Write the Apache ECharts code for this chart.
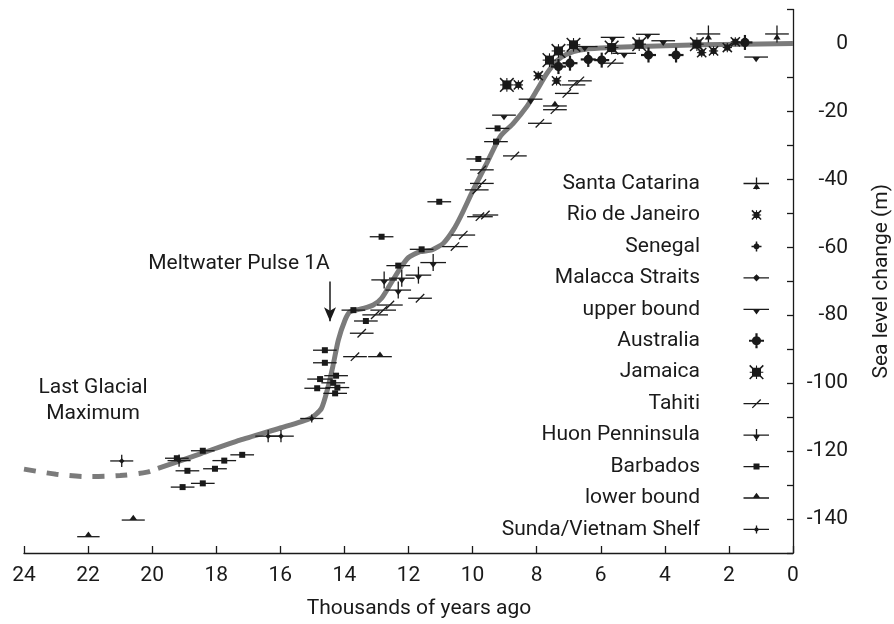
<!DOCTYPE html>
<html><head><meta charset="utf-8">
<script src="https://cdn.jsdelivr.net/npm/echarts@6/dist/echarts.min.js"></script>
<style>html,body{margin:0;padding:0;background:#fff}#c{width:894px;height:624px}</style>
</head><body><div id="c"></div><script>
// ---------- data: [age (kyr BP), sea level (m), age error, level error] ----------
const seriesNames = ['Santa Catarina','Rio de Janeiro','Senegal','Malacca Straits','upper bound','Australia','Jamaica','Tahiti','Huon Penninsula','Barbados','lower bound','Sunda/Vietnam Shelf'];
const santaCatarina = [[2.64,2.8,0.37,2.5],[0.5,2.8,0.37,2.5]];
const rioDeJaneiro = [[8.57,-12.2],[7.95,-9.5],[7.38,-11.0],[2.85,-2.7],[2.48,-2.2],[2.05,-1.2],[1.8,0.5]];
const senegal = [];
const malacca = [];
const upperBound = [[9.02,-21.1,0.37],[8.19,-16.4,0.37],[6.5,-0.9,0.4],[5.63,1.8,0.37],[5.27,-2.9,0.37],[4.53,2.7,0.37],[4.05,0.8,0.37],[1.15,-4.0,0.37]];
const australia = [[7.32,-6.8],[6.96,-5.8],[6.39,-4.7],[5.97,-4.9],[4.51,-3.4],[3.65,-3.4],[1.5,0.3]];
const jamaica = [[8.93,-12.2],[7.6,-4.9],[7.32,-2.2],[6.85,-0.4],[5.66,-1.2],[4.8,-0.2],[3.0,-0.2]];
const tahiti = [[13.67,-92.2,0.37],[13.46,-85.3,0.37],[13.04,-79.9,0.4],[12.79,-78.5,0.4],[12.58,-77.0,0.4],[11.64,-75.0,0.37],[10.55,-59.8,0.4],[10.29,-56.4,0.37],[9.77,-51.0,0.4],[9.6,-50.5,0.4],[9.87,-43.1,0.37],[9.71,-41.2,0.37],[9.71,-37.2,0.37],[8.68,-33.1,0.37],[7.9,-23.5,0.37],[7.43,-19.5,0.37],[7.06,-14.7,0.37],[6.85,-12.2,0.37],[6.65,-11.0,0.37],[5.66,-5.8,0.37]];
const huon = [[12.76,-69.6,0.4,2.5],[12.21,-69.1,0.4,2.5],[11.69,-68.2,0.4,2.5],[11.23,-64.5,0.4,2.5],[12.32,-72.6,0.4,2.5]];
const barbados = [[19.23,-122.1,0.37],[18.42,-119.9,0.37],[17.19,-121.1,0.37],[17.75,-122.8,0.37],[18.90,-125.8,0.37],[18.04,-125.2,0.37],[19.05,-130.6,0.37],[18.42,-129.5,0.37],
  [14.61,-90.3,0.37],[14.61,-94.0,0.37],[14.76,-98.8,0.4],[14.26,-97.8,0.37],[14.35,-99.9,0.37],[14.85,-101.5,0.4],[14.22,-101.3,0.37],[14.29,-103.0,0.37],
  [13.72,-78.5,0.37],[13.33,-81.7,0.37],[12.84,-56.9,0.37],[12.32,-65.4,0.37],[11.59,-60.6,0.37],[11.04,-46.6,0.37],[9.82,-34.0,0.37],[9.27,-28.9,0.37],[9.22,-25.0,0.37]];
const lowerBound = [[21.99,-145.2,0.35],[20.59,-140.3,0.36],[12.89,-92.2,0.37],[7.43,-18.4,0.37]];
const sunda = [[20.95,-122.9,0.36,1.8],[19.16,-122.8,0.36,1.8],[16.38,-115.6,0.4,1.8],[15.98,-115.6,0.4,1.8],[15.02,-110.4,0.36,1.2]];
const curveSolid = [[19.82,-125.1],[18.5,-120.8],[17.26,-116.8],[16.0,-113.2],[15.07,-110.4],[14.72,-107.5],[14.52,-101.5],[14.36,-95],[14.19,-87.3],[13.98,-81.4],[13.83,-79],[13.41,-78],[13.1,-77],[12.84,-75],[12.58,-71.1],[12.26,-66.2],[12.0,-63],[11.64,-61.3],[11.27,-60.8],[10.91,-58.8],[10.6,-54.9],[10.35,-50.5],[9.98,-43.1],[9.56,-35.3],[9.14,-27.4],[8.73,-23.5],[8.31,-18.6],[7.99,-13.7],[7.68,-8.8],[7.36,-5],[7.05,-3.1],[6.65,-1.9],[6.0,-1.3],[4.5,-0.8],[2.9,-0.4],[0,0]];
const curveDashed = [[24,-125.3],[23,-126.8],[22,-127.5],[21,-127.2],[20.16,-126.2],[19.82,-125.1]];
const meltwaterArrow = [[14.45,-70.1],[14.45,-81.8]];

// ---------- styling ----------
const INK = '#1a1a1a';
const FONT = 'Roboto';
const CURVE = '#7b7b7b';

// marker primitives relative to the point
const sq = s => ({k:'poly', pts:[[-s/2,-s/2],[s/2,-s/2],[s/2,s/2],[-s/2,s/2]]});
const ln = (a,b,w) => ({k:'line', a, b, w});
const spiky = (s, r) => [sq(s), ln([-r,-r],[r,r],1.5), ln([-r,r],[r,-r],1.5), ln([0,-r],[0,r],1.1), ln([-r,0],[r,0],1.1)];
const MARKERS = {
  sc:   [{k:'poly', pts:[[0,0],[3.6,5.5],[-3.6,5.5]]}],
  rio:  spiky(6, 4.6),
  sen:  [{k:'circle', r:3}, ln([-5,0],[5,0],1.5), ln([0,-5],[0,5],1.5)],
  mal:  [{k:'poly', pts:[[0,-3.6],[3.6,0],[0,3.6],[-3.6,0]]}],
  ub:   [{k:'poly', pts:[[-3.8,0],[3.8,0],[0,5.2]]}],
  aus:  [{k:'circle', r:4.6}, ln([-7.5,0],[7.5,0],2.2), ln([0,-7.5],[0,7.5],2.2)],
  jam:  spiky(9, 6.8),
  tah:  [ln([-4.2,4.2],[4.2,-4.2],1.3)],
  huon: [{k:'poly', pts:[[-3.8,0],[3.8,0],[0,5.2]]}],
  bar:  [sq(6)],
  lb:   [{k:'poly', pts:[[-3.8,0],[0,-5.2],[3.8,0]]}],
  sun:  [{k:'poly', pts:[[0,-2.8],[2.8,0],[0,2.8],[-2.8,0]]}]
};
const DEFS = [
  {name:seriesNames[0], data:santaCatarina, m:'sc', h:true, v:6},
  {name:seriesNames[1], data:rioDeJaneiro, m:'rio', h:false, v:0},
  {name:seriesNames[2], data:senegal, m:'sen', h:false, v:0},
  {name:seriesNames[3], data:malacca, m:'mal', h:true, v:0},
  {name:seriesNames[4], data:upperBound, m:'ub', h:true, v:0},
  {name:seriesNames[5], data:australia, m:'aus', h:false, v:0},
  {name:seriesNames[6], data:jamaica, m:'jam', h:false, v:0},
  {name:seriesNames[7], data:tahiti, m:'tah', h:true, v:0},
  {name:seriesNames[8], data:huon, m:'huon', h:true, v:6},
  {name:seriesNames[9], data:barbados, m:'bar', h:true, v:0},
  {name:seriesNames[10], data:lowerBound, m:'lb', h:true, v:0},
  {name:seriesNames[11], data:sunda, m:'sun', h:true, v:4}
];

function toGraphic(p, cx, cy){
  if (p.k === 'poly') return {type:'polygon', shape:{points:p.pts.map(q=>[cx+q[0], cy+q[1]])}, style:{fill:INK}};
  if (p.k === 'circle') return {type:'circle', shape:{cx, cy, r:p.r}, style:{fill:INK}};
  return {type:'line', shape:{x1:cx+p.a[0], y1:cy+p.a[1], x2:cx+p.b[0], y2:cy+p.b[1]}, style:{stroke:INK, lineWidth:p.w}};
}
function makeRender(key){
  return function(params, api){
    const x = api.value(0), y = api.value(1), ex = api.value(2), ey = api.value(3);
    const c = api.coord([x, y]);
    const kids = [];
    if (ex > 0){ const a = api.coord([x-ex, y]), b = api.coord([x+ex, y]);
      kids.push({type:'line', shape:{x1:a[0], y1:a[1], x2:b[0], y2:b[1]}, style:{stroke:INK, lineWidth:1.3}}); }
    if (ey > 0){ const a = api.coord([x, y+ey]), b = api.coord([x, y-ey]);
      kids.push({type:'line', shape:{x1:a[0], y1:a[1], x2:b[0], y2:b[1]}, style:{stroke:INK, lineWidth:1.3}}); }
    MARKERS[key].forEach(p => kids.push(toGraphic(p, c[0], c[1])));
    return {type:'group', children:kids};
  };
}

// legend icon paths
const IW = 64, IH = 20, ICX = 51.5, ICY = 10;
function polyPath(pts){
  let a = 0; for (let i=0;i<pts.length;i++){ const p=pts[i], q=pts[(i+1)%pts.length]; a += p[0]*q[1]-q[0]*p[1]; }
  if (a < 0) pts = pts.slice().reverse();
  return 'M' + pts.map(p => p[0].toFixed(2)+','+p[1].toFixed(2)).join('L') + 'Z';
}
function linePoly(a, b, w){
  const dx=b[0]-a[0], dy=b[1]-a[1], L=Math.hypot(dx,dy), nx=-dy/L*w/2, ny=dx/L*w/2;
  return [[a[0]+nx,a[1]+ny],[b[0]+nx,b[1]+ny],[b[0]-nx,b[1]-ny],[a[0]-nx,a[1]-ny]];
}
function primPath(p, cx, cy){
  if (p.k === 'poly') return polyPath(p.pts.map(q=>[cx+q[0], cy+q[1]]));
  if (p.k === 'circle'){ const pts=[]; for(let i=0;i<20;i++){ const t=i/20*2*Math.PI; pts.push([cx+p.r*Math.cos(t), cy+p.r*Math.sin(t)]); } return polyPath(pts); }
  return polyPath(linePoly([cx+p.a[0], cy+p.a[1]], [cx+p.b[0], cy+p.b[1]], p.w));
}
function legendIcon(d){
  const parts = [polyPath([[0,0],[0.01,0],[0.01,0.01],[0,0.01]]), polyPath([[IW-0.01,IH-0.01],[IW,IH-0.01],[IW,IH],[IW-0.01,IH]])];
  if (d.h) parts.push(polyPath(linePoly([IW-25.5, ICY], [IW, ICY], 1.3)));
  if (d.v) parts.push(polyPath(linePoly([ICX, ICY-d.v], [ICX, ICY+d.v], 1.3)));
  MARKERS[d.m].forEach(p => parts.push(primPath(p, ICX, ICY)));
  return 'path://' + parts.join(' ');
}

const series = [
  {type:'line', name:'curveDashed', data:curveDashed, showSymbol:false, smooth:0.3, silent:true, z:1,
   lineStyle:{color:CURVE, width:5, type:[12,11], cap:'butt'}},
  {type:'line', name:'curve', data:curveSolid, showSymbol:false, smooth:0.2, silent:true, z:1,
   lineStyle:{color:CURVE, width:5},
   markLine:{silent:true, symbol:['none','arrow'], symbolSize:[9,14], label:{show:false},
     lineStyle:{color:INK, width:1.5, type:'solid'},
     data:[[{coord:meltwaterArrow[0]},{coord:meltwaterArrow[1]}]]}}
].concat(DEFS.map(d => ({
  type:'custom', name:d.name, z:3, silent:true,
  dimensions:['age','level','ageErr','levelErr'], encode:{x:0, y:1},
  itemStyle:{color:INK},
  data:d.data.map(r => [r[0], r[1], r[2]||0, r[3]||0]),
  renderItem:makeRender(d.m)
})));

const chart = echarts.init(document.getElementById('c'));
chart.setOption({
  backgroundColor:'#fff',
  animation:false,
  textStyle:{fontFamily:FONT},
  grid:{left:24, right:101, top:9.5, bottom:71, containLabel:false, outerBoundsMode:'none'},
  xAxis:{type:'value', min:0, max:24, interval:2, inverse:true,
    name:'Thousands of years ago', nameLocation:'middle', nameGap:45,
    nameTextStyle:{fontSize:21, color:INK, fontFamily:FONT, padding:[0,0,0,21]},
    axisLine:{onZero:false, lineStyle:{color:INK, width:1.3}},
    axisTick:{inside:true, length:7, lineStyle:{color:INK, width:1.3}},
    axisLabel:{fontSize:21, color:INK, margin:12, fontFamily:FONT},
    splitLine:{show:false}},
  yAxis:{type:'value', min:-150, max:10, interval:10, position:'right',
    name:'Sea level change (m)', nameLocation:'middle', nameGap:78, nameRotate:90,
    nameTextStyle:{fontSize:21, color:INK, fontFamily:FONT},
    axisLine:{onZero:false, lineStyle:{color:INK, width:1.3}},
    axisTick:{inside:true, length:6, lineStyle:{color:INK, width:1.3}},
    axisLabel:{fontSize:21, color:INK, fontFamily:FONT, align:'right', margin:55,
      formatter:v => (v % 20 === 0 ? String(v) : '')},
    splitLine:{show:false}},
  legend:{orient:'vertical', right:125, top:173, padding:0, itemGap:10.45, itemWidth:IW, itemHeight:IH,
    align:'right', selectedMode:false, itemStyle:{borderWidth:0},
    textStyle:{fontSize:21, color:INK, fontFamily:FONT, lineHeight:20},
    data:DEFS.map(d => ({name:d.name, icon:legendIcon(d)}))},
  graphic:[
    {type:'text', x:239, y:264, style:{text:'Meltwater Pulse 1A', font:'21px Roboto', fill:INK, textAlign:'center', textVerticalAlign:'middle'}},
    {type:'text', x:93, y:401, style:{text:'Last Glacial\nMaximum', font:'21px Roboto', fill:INK, textAlign:'center', textVerticalAlign:'middle', lineHeight:26}}
  ],
  series
});
</script></body></html>
